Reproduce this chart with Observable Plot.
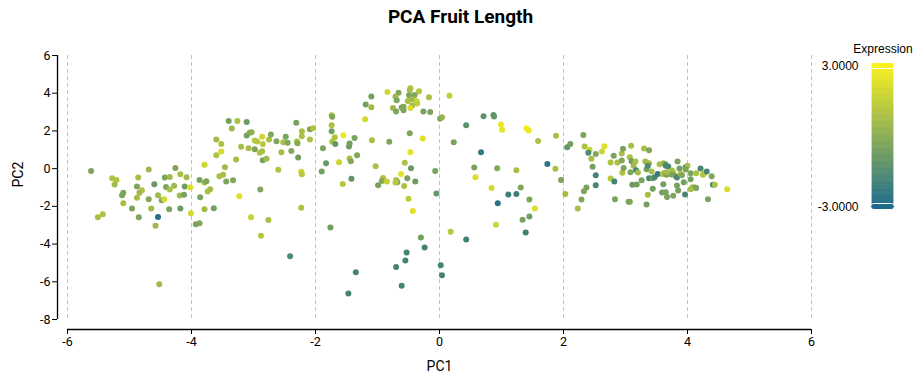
<!DOCTYPE html>
<html><head><meta charset="utf-8">
<script src="https://cdn.jsdelivr.net/npm/d3@7"></script>
<script src="https://cdn.jsdelivr.net/npm/@observablehq/plot@0.6"></script>
<style>
body{margin:0;background:#fff;font-family:Roboto,sans-serif;}
#wrap{position:relative;width:921px;height:384px;overflow:hidden}
#title{position:absolute;left:0;top:4px;width:921px;text-align:center;font-family:Roboto;font-weight:bold;font-size:19px;line-height:26px;color:#000}
#chart{position:absolute;left:0;top:40px}
#legend{position:absolute;left:800px;top:35px}
</style></head><body>
<div id="wrap"><div id="title">PCA Fruit Length</div><div id="chart"></div><div id="legend"></div></div>
<script>
const pc1 = [
-5.62,-5.28,-5.21,-5.24,-5.10,-5.12,-5.10,-4.96,-4.86,-4.69,
-4.88,-4.80,-4.84,-4.88,-4.69,-4.65,-4.60,-4.54,-4.48,-4.44,
-4.43,-4.35,-4.41,-4.35,-4.28,-4.26,-4.18,-4.08,-4.11,-4.19,
-4.12,-4.36,-4.18,-4.02,-3.87,-3.79,-3.76,-3.86,-3.74,-3.70,
-3.79,-3.79,-3.64,-3.60,-3.52,-3.60,-3.52,-3.46,-3.55,-3.49,
-3.44,-3.33,-3.23,-3.35,-3.40,-3.26,-3.11,-3.11,-3.06,-3.03,
-3.20,-3.08,-3.28,-2.98,-2.94,-2.86,-2.85,-2.98,-2.90,-2.86,
-2.85,-2.79,-2.75,-2.72,-2.63,-2.55,-2.60,-2.52,-2.48,-2.45,
-2.39,-2.28,-2.31,-2.30,-2.29,-2.22,-2.22,-2.09,-2.09,-2.04,
-2.23,-2.22,-2.23,-2.89,-1.88,-1.83,-1.90,-1.74,-1.73,-1.74,
-1.74,-1.69,-1.73,-1.68,-1.55,-1.62,-1.45,-1.46,-1.45,-1.43,
-1.37,-1.33,-1.42,-1.56,-1.19,-1.10,-1.10,-1.20,-1.09,-1.03,
-0.84,-0.91,-0.93,-0.85,-0.99,-0.81,-0.66,-0.71,-0.69,-0.47,
-0.48,-0.33,-0.49,-0.40,-0.51,-0.44,-0.37,-0.36,-0.44,-0.47,
-0.17,-0.75,-0.70,-0.61,-0.58,-0.58,-0.26,-0.15,0.16,0.01,
0.04,0.43,0.71,0.87,0.88,0.99,1.01,1.40,1.44,-0.48,
-0.27,0.23,-0.47,0.67,-0.56,-0.46,-0.07,0.56,0.93,1.24,
-0.62,-0.52,-0.39,-0.70,-0.68,-0.71,-0.57,0.58,0.84,1.31,
1.11,1.24,0.94,-0.05,-0.50,1.45,1.59,1.88,1.74,1.87,
1.96,1.54,1.34,1.45,2.03,2.06,2.11,2.32,2.34,2.42,
2.40,2.45,2.52,2.66,2.62,2.47,2.52,2.52,2.37,2.33,
2.29,2.23,2.76,2.81,2.87,2.94,2.94,2.96,3.09,2.76,
2.82,2.95,2.97,3.07,3.10,3.08,3.13,3.17,3.20,3.16,
3.11,3.18,3.05,3.07,3.26,3.30,3.38,3.32,3.38,3.34,
3.36,3.38,3.44,3.47,3.52,3.42,3.44,3.36,3.34,3.55,
3.61,3.64,3.65,3.69,3.60,3.63,3.66,3.75,3.77,3.74,
3.84,3.87,3.81,3.83,3.89,3.91,3.97,4.00,3.97,3.94,
4.05,4.05,4.14,4.21,4.25,4.27,4.31,4.39,4.41,4.44,
4.64,4.33,4.08,4.12,4.14,4.05,3.96,3.85,3.83,3.77,
3.67,3.65,3.59,3.61,2.83,3.67,-4.85,-4.54,-4.58,-4.01,
-3.93,-3.87,-3.04,-2.76,-2.88,-2.41,-1.76,-4.52,-0.43,0.18,
0.43,-0.30,-0.24,-0.53,-0.55,-0.70,-1.35,-0.61,-1.47,0.02,
0.04,0.91,1.39,-5.51,-5.43];
const pc2 = [
-0.12,-0.51,-0.60,-0.84,-1.28,-1.41,-1.83,-2.12,-0.47,-0.05,
-0.95,-1.14,-1.28,-1.55,-1.62,-2.12,-0.83,-1.41,-1.67,-1.62,
-0.47,-0.44,-0.97,-1.11,-0.91,0.04,-0.30,-0.46,-0.95,-1.43,
-1.39,-2.15,-2.12,-1.00,-0.60,-0.74,-0.67,-1.52,-1.21,-1.09,
0.20,-2.15,-2.10,0.71,0.91,1.54,1.31,0.07,-0.40,-0.33,
-0.68,-0.62,-1.46,2.13,2.53,2.53,2.48,1.76,1.90,1.93,
1.16,1.08,0.48,1.49,1.44,1.69,1.31,1.03,0.84,0.92,
0.45,0.52,1.54,1.81,1.45,0.87,-0.06,1.40,1.69,1.37,
0.94,0.59,2.43,1.44,1.35,1.98,1.72,2.09,1.54,2.14,
-0.17,-0.30,-2.08,-1.11,1.08,0.29,-0.15,2.83,2.75,2.30,
1.98,1.67,1.42,1.31,1.77,0.34,1.33,1.17,0.54,0.39,
1.63,0.71,-0.54,-0.81,3.40,3.26,3.82,2.62,1.51,0.13,
4.07,-0.49,-0.65,-0.68,-0.88,1.42,4.02,3.82,3.63,4.26,
4.16,4.10,3.89,3.91,3.59,3.68,3.57,3.45,3.35,3.22,
3.79,3.22,3.03,3.24,3.28,3.10,3.03,3.01,3.86,2.66,
2.73,2.30,2.78,2.85,2.76,2.34,2.06,2.14,2.02,1.88,
1.60,1.40,0.87,0.87,0.31,0.02,-0.12,0.06,0.02,-0.08,
-0.28,-0.51,-0.68,-0.60,-0.72,-0.74,-0.92,-0.46,-1.02,-1.00,
-1.37,-1.34,-1.83,-1.32,-1.59,-1.64,1.47,1.74,0.25,-0.01,
-0.60,-2.12,-2.71,-2.54,-1.34,1.13,1.31,1.79,1.17,1.00,
0.84,0.52,0.78,1.19,0.91,0.10,-0.35,-0.88,-1.00,-1.20,
-1.64,-2.12,0.32,0.69,0.32,0.43,0.80,1.05,1.21,-0.52,
-0.68,-0.22,0.04,0.60,0.39,-0.19,0.15,-0.08,-0.21,0.38,
-0.86,-0.84,-1.76,-1.76,-0.61,1.07,0.98,0.38,0.29,-0.03,
0.15,-0.51,-0.51,-0.46,-0.28,-0.15,-1.07,-1.39,-1.90,0.23,
0.29,0.24,0.15,0.11,-0.28,-0.22,-0.33,-0.10,-0.22,-0.31,
0.38,0.01,-0.40,-0.47,-0.28,-0.35,0.07,0.15,-0.05,-0.72,
-0.24,-0.56,-0.24,0.01,-0.33,-0.24,-0.15,-0.40,-0.86,-0.86,
-1.09,-1.62,-0.99,-1.00,-1.02,-1.09,-1.37,-1.16,-0.90,-1.44,
-1.50,-1.25,-1.27,-0.83,-1.62,-0.19,-2.58,-2.56,-3.03,-2.36,
-2.95,-2.90,-2.58,-2.72,-3.56,-4.64,-3.12,-6.13,-2.24,-3.35,
-3.76,-3.65,-4.18,-4.45,-4.87,-5.21,-5.49,-6.21,-6.62,-5.12,
-5.65,-2.97,-3.39,-2.58,-2.42];
const expression = [
-0.4,1.0,1.0,0.6,-0.4,-0.4,0.8,-0.5,0.7,0.5,
-0.3,1.0,0.6,0.7,-0.2,0.6,-0.9,0.6,-0.4,2.0,
-0.4,0.6,-0.4,0.9,0.5,-0.4,0.8,0.6,-0.7,0.6,
-0.5,-0.4,-0.9,2.2,-0.5,0.6,-0.4,-0.5,0.9,0.7,
1.8,0.6,-0.6,0.9,2.0,0.6,1.0,0.6,0.9,0.7,
-0.4,-0.3,2.3,0.5,-0.6,0.9,-0.9,-0.6,-0.4,0.2,
0.8,0.8,0.7,1.2,1.2,1.8,1.2,-0.4,1.0,0.8,
-0.6,0.6,0.8,-0.4,-0.3,0.8,1.0,0.8,-0.5,-0.3,
-0.2,-0.7,-0.5,1.0,-0.2,0.8,0.9,-0.5,0.9,1.0,
1.8,1.2,1.0,-0.3,-0.5,-1.0,-0.6,1.0,-0.3,0.9,
-0.6,1.0,0.9,-1.0,2.6,1.8,-0.6,-0.8,0.9,-0.2,
-0.4,-0.3,-1.1,1.2,-0.6,0.6,-0.6,2.0,0.8,0.9,
1.9,0.9,-0.2,1.6,-0.5,-0.4,-0.3,0.6,-0.3,1.0,
0.8,1.1,-0.4,-0.3,0.8,0.6,1.6,1.5,0.6,2.2,
0.9,0.5,-0.4,-0.4,-0.2,-0.3,-0.5,-0.4,1.5,-0.5,
0.3,-1.2,-1.2,-1.1,-1.0,2.5,2.4,2.8,2.6,-0.4,
2.3,-0.5,2.4,-2.3,0.9,-0.9,-0.5,-0.5,-0.2,0.8,
2.4,-0.5,-0.8,1.0,-0.2,1.2,0.9,2.2,2.0,-0.3,
-2.0,-2.0,-2.6,-1.0,1.4,-0.4,0.9,0.8,-2.5,0.8,
-0.4,2.2,-0.5,-0.7,0.7,-1.1,-0.6,-0.4,0.9,1.8,
-1.6,0.8,-0.3,2.2,1.8,-0.6,-1.8,-1.8,-0.5,-0.4,
-0.3,0.8,1.0,-0.4,0.8,-0.3,0.8,-0.5,0.8,1.2,
-1.9,0.9,-0.4,0.8,-0.8,-0.4,0.6,-1.8,0.7,0.8,
-0.8,-0.7,-0.4,-0.3,-0.5,0.8,-0.3,0.6,0.8,-0.6,
-1.6,-1.7,-0.7,-1.7,-2.3,0.8,-0.6,0.7,-0.6,0.8,
0.8,-0.3,-1.8,-1.7,0.8,0.7,-0.5,0.8,0.9,-0.5,
-0.4,-0.6,-0.6,-1.7,0.8,-0.3,-1.8,0.8,-0.4,-0.6,
-0.4,-0.5,0.9,-1.8,1.0,1.2,-1.8,-0.3,-1.9,1.0,
2.2,-0.5,0.8,-0.4,-0.5,0.8,-1.7,-0.6,-0.5,-0.4,
-0.5,-0.5,-0.6,-0.6,-0.4,0.7,-0.4,-2.8,0.6,2.0,
-0.4,-0.3,1.6,0.8,1.2,-1.6,-0.7,0.6,2.3,1.2,
-2.0,-0.6,-1.9,-1.9,-1.9,-1.9,-1.9,-1.9,-1.9,-1.9,
-1.9,1.8,-2.0,0.7,0.9];
const xTicks = [-6,-4,-2,0,2,4,6];
const yTicks = [6,4,2,0,-2,-4,-6,-8];
const legendTicks = [3,-3];
const legendTitle = "Expression";
const xLabel = "PC1", yLabel = "PC2";

const hyphen = s => String(s).replace("\u2212","-");
const colorOpts = {type:"linear", domain:[-3,3], range:["#1c6a8c","#f9f01c"], interpolate:"rgb", clamp:true};
const data = pc1.map((x,i)=>({x, y:pc2[i], e:expression[i]}));

const chart = Plot.plot({
  width:921, height:344, marginLeft:67, marginRight:110, marginTop:15, marginBottom:65,
  style:{fontFamily:"Roboto", fontSize:"12.5px", color:"#000", background:"transparent"},
  x:{domain:[-6,6]}, y:{domain:[-8,6]},
  color: colorOpts,
  marks:[
    Plot.ruleX(xTicks, {stroke:"#c4c4c4", strokeDasharray:"4,3"}),
    Plot.ruleX([-6], {dx:-10, stroke:"#000", strokeWidth:1.3}),
    Plot.ruleY([-8], {dy:10, stroke:"#000", strokeWidth:1.3}),
    Plot.axisY(yTicks, {dx:-10, tickSize:5, tickPadding:2, label:null, fontSize:12.5, tickFormat:d=>hyphen(d)}),
    Plot.axisX(xTicks, {dy:10, tickSize:5, tickPadding:3, label:null, fontSize:12.5, tickFormat:d=>hyphen(d)}),
    Plot.dot(data, {x:"x", y:"y", fill:"e", r:3}),
    Plot.text([xLabel], {text:d=>d, frameAnchor:"bottom", dy:51, fontSize:14}),
    Plot.text([yLabel], {text:d=>d, frameAnchor:"left", dx:-49, rotate:-90, fontSize:14})
  ]
});
document.getElementById("chart").appendChild(chart);

const stops = d3.range(0,121).map(i => -3 + 6*i/120);
const legend = Plot.plot({
  width:121, height:190, marginLeft:72, marginRight:28, marginTop:30.5, marginBottom:18.5,
  style:{fontFamily:"Liberation Sans, Arial", fontSize:"12px", color:"#000", background:"transparent"},
  x:{domain:[0,1], axis:null}, y:{domain:[-3,3], axis:null},
  color: colorOpts,
  marks:[
    Plot.rect(stops.slice(0,-1), {x1:0, x2:1, y1:d=>d, y2:(d,i)=>stops[i+1], fill:d=>d, stroke:d=>d, strokeWidth:0.6}),
    Plot.rect(legendTicks, {x1:0, x2:1, y1:d=>d, y2:d=>d, insetTop:-3, insetBottom:-3, insetLeft:-1.3, insetRight:-1.3, rx:3, fill:d=>d, stroke:"#fff", strokeWidth:1}),
    Plot.text(legendTicks, {x:0, y:d=>d, text:d=>hyphen(d3.format(".4f")(d)), textAnchor:"end", dx:-14, fontSize:12}),
    Plot.text([legendTitle], {x:0.5, y:3, dy:-17, text:d=>d, fontSize:12})
  ]
});
document.getElementById("legend").appendChild(legend);
</script>
</body></html>
